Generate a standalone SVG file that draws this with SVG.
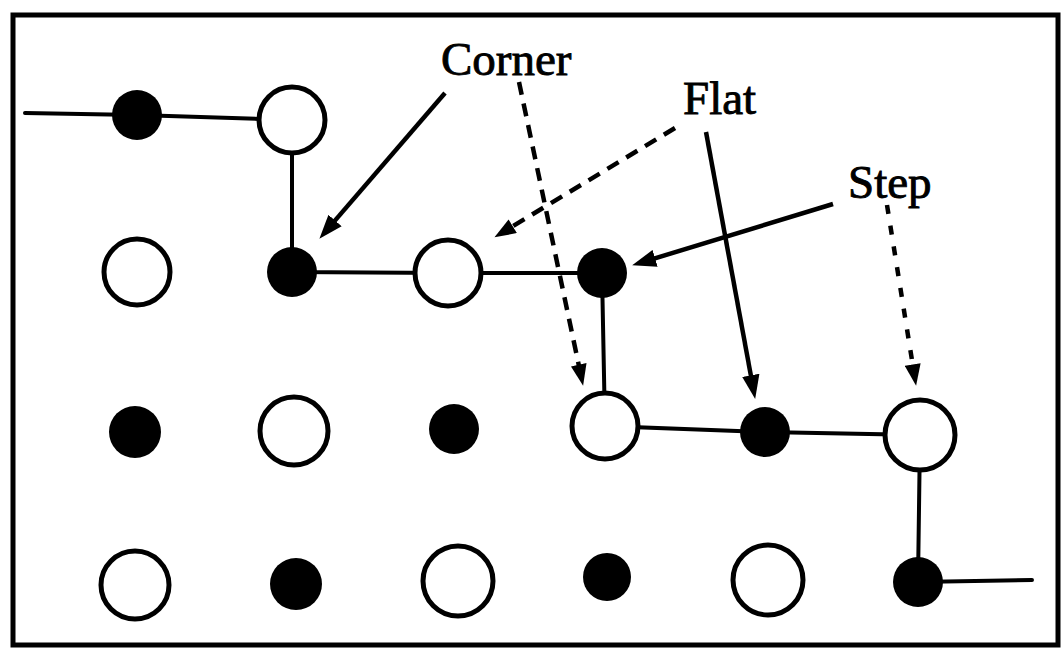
<svg xmlns="http://www.w3.org/2000/svg" width="1061" height="650" viewBox="0 0 1061 650">
<style>
.frame{fill:none;stroke:#000;stroke-width:5}
.link{stroke:#000;stroke-width:4;fill:none;stroke-linecap:round}
.open{fill:#fff;stroke:#000;stroke-width:5}
.dot{fill:#000}
.arr{stroke:#000;stroke-width:4.5;fill:none;marker-end:url(#head)}
.dash{stroke:#000;stroke-width:4.5;fill:none;stroke-dasharray:13 9;marker-end:url(#head2)}
.lbl{font-family:"Liberation Serif","Times New Roman",serif;font-size:47px;fill:#000;stroke:#000;stroke-width:0.9}
</style>
<defs>
<marker id="head" markerUnits="userSpaceOnUse" markerWidth="24" markerHeight="18" refX="12" refY="8" orient="auto" viewBox="0 0 22 16">
<path d="M0,0 L22,8 L0,16 z" fill="#000"/>
</marker>
<marker id="head2" markerUnits="userSpaceOnUse" markerWidth="22" markerHeight="16" refX="10" refY="7.5" orient="auto" viewBox="0 0 20 15">
<path d="M0,0 L20,7.5 L0,15 z" fill="#000"/>
</marker>
</defs>
<rect width="1061" height="650" fill="#fff"/>
<rect class="frame" x="13" y="15" width="1045" height="630"/>
<g id="connectors">
<polyline class="link" points="25,113 137,115 292,120 292,272 448,273 602,273 605,426 765,432 920,435 918,582 1032,580"/>
<line class="arr" x1="445" y1="93" x2="326.5" y2="230.4"/>
<line class="dash" x1="519" y1="82" x2="580.9" y2="375.2"/>
<line class="dash" x1="675" y1="128" x2="503.6" y2="231.8"/>
<line class="arr" x1="706" y1="132" x2="753.2" y2="388.2"/>
<line class="arr" x1="833" y1="204" x2="642.6" y2="262.1"/>
<line class="dash" style="stroke-dasharray:9 12" x1="887" y1="205" x2="914.4" y2="375.1"/>
</g>
<g id="n11"><circle class="dot" cx="137" cy="115" r="25"/></g>
<g id="n12"><circle class="open" cx="292" cy="120" r="33"/></g>
<g id="n21"><circle class="open" cx="137" cy="272" r="33"/></g>
<g id="n22"><circle class="dot" cx="292" cy="272" r="25"/></g>
<g id="n23"><circle class="open" cx="448" cy="273" r="33"/></g>
<g id="n24"><circle class="dot" cx="602" cy="273" r="25"/></g>
<g id="n31"><circle class="dot" cx="135" cy="432" r="26"/></g>
<g id="n32"><circle class="open" cx="294" cy="431" r="34"/></g>
<g id="n33"><circle class="dot" cx="454" cy="429" r="25"/></g>
<g id="n34"><circle class="open" cx="605" cy="426" r="33"/></g>
<g id="n35"><circle class="dot" cx="765" cy="432" r="25"/></g>
<g id="n36"><circle class="open" cx="920" cy="435" r="35"/></g>
<g id="n41"><circle class="open" cx="135" cy="585" r="34"/></g>
<g id="n42"><circle class="dot" cx="296" cy="584" r="26"/></g>
<g id="n43"><circle class="open" cx="458" cy="581" r="35"/></g>
<g id="n44"><circle class="dot" cx="607" cy="577" r="24"/></g>
<g id="n45"><circle class="open" cx="768" cy="580" r="35"/></g>
<g id="n46"><circle class="dot" cx="918" cy="582" r="25"/></g>
<g id="labels">
<text class="lbl" x="441" y="75">Corner</text>
<text class="lbl" x="683" y="114">Flat</text>
<text class="lbl" x="848" y="198">Step</text>
</g>
</svg>
